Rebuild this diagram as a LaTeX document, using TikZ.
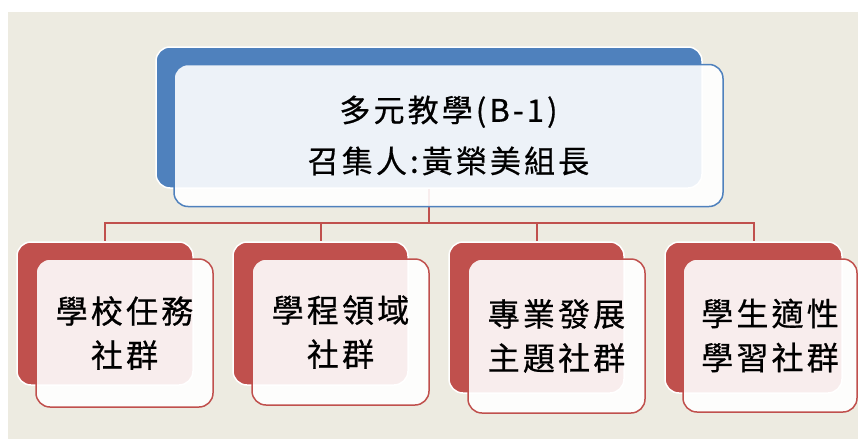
\documentclass[tikz,border=0pt]{standalone}
\usepackage{fontspec}
\newfontfamily\cjk[LetterSpace=10,FakeBold=0.6]{Noto Sans CJK TC}
\definecolor{bgc}{HTML}{EDEBE1}
\definecolor{ored}{HTML}{C0504D}
\definecolor{oblue}{HTML}{4F81BD}
\pgfdeclarelayer{back}
\pgfdeclarelayer{lines}
\pgfsetlayers{back,lines,main}
\tikzset{
  backbox/.style={draw=white, line width=1.5pt, rounded corners=14pt, inner sep=0pt},
  frontbox/.style={line width=1.5pt, fill=white, fill opacity=0.9, text opacity=1,
    rounded corners=14pt, inner sep=0pt, align=center, text=black},
  childfont/.style={font=\cjk\fontsize{32}{44}\selectfont},
  topfont/.style={font=\cjk\fontsize{31}{51}\selectfont},
  conn/.style={draw=ored, line width=2pt}
}
\begin{document}
\begin{tikzpicture}[x=1pt,y=-1pt]
\useasboundingbox (0,0) rectangle (858,439);
\begin{pgfonlayer}{back}
\fill[bgc] (8,12) rectangle (858,439);
\end{pgfonlayer}
% top box
\node[backbox, fill=oblue, minimum width=546pt, minimum height=141pt] (tb) at (429,117.5) {};
\node[frontbox, draw=oblue, topfont, minimum width=549pt, minimum height=142pt] (tf) at (448.5,135.5) {多元教學(B-1)\\召集人:黃榮美組長};
% children back boxes
\node[backbox, fill=ored, minimum width=176pt, minimum height=143pt] (b1) at (105,313.5) {};
\node[backbox, fill=ored, minimum width=175pt, minimum height=143pt] (b2) at (320.5,313.5) {};
\node[backbox, fill=ored, minimum width=175pt, minimum height=151pt] (b3) at (536.5,317.5) {};
\node[backbox, fill=ored, minimum width=177pt, minimum height=151pt] (b4) at (753.5,317.5) {};
% children front boxes
\node[frontbox, draw=ored, childfont, minimum width=177pt, minimum height=148pt] (f1) at (124.5,333) {學校任務\\社群};
\node[frontbox, draw=ored, childfont, minimum width=177pt, minimum height=146pt] (f2) at (340.5,332) {學程領域\\社群};
\node[frontbox, draw=ored, childfont, minimum width=177pt, minimum height=154pt] (f3) at (556.5,336) {專業發展\\主題社群};
\node[frontbox, draw=ored, childfont, minimum width=174pt, minimum height=153pt] (f4) at (770,335.5) {學生適性\\學習社群};
% connectors
\begin{pgfonlayer}{lines}
\coordinate (bus) at (429,223);
\draw[conn] (tb.south) -- (bus);
\draw[conn] (bus) -| (b1.north);
\draw[conn] (bus) -| (b2.north);
\draw[conn] (bus) -| (b3.north);
\draw[conn] (bus) -| (b4.north);
\end{pgfonlayer}
\end{tikzpicture}
\end{document}
